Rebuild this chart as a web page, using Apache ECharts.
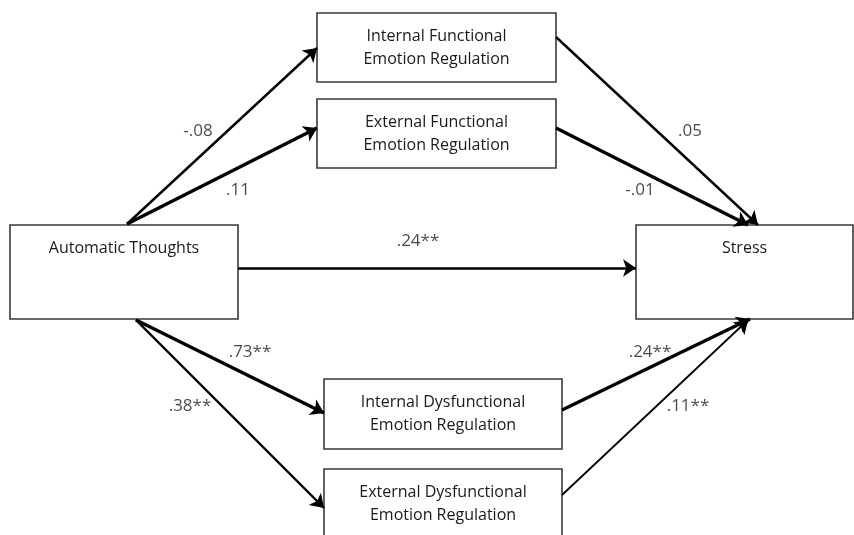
<!DOCTYPE html>
<html><head><meta charset="utf-8">
<script src="https://cdn.jsdelivr.net/npm/echarts@6/dist/echarts.min.js"></script>
<style>html,body{margin:0;padding:0;background:#fff}#c{width:854px;height:535px}</style>
</head><body><div id="c"></div>
<script>
// Variables (boxes) of the path model: label lines and extents [x0, y0, x1, y1] in diagram units
const nodeNames = ['Automatic Thoughts', 'Internal Functional\nEmotion Regulation', 'External Functional\nEmotion Regulation', 'Stress', 'Internal Dysfunctional\nEmotion Regulation', 'External Dysfunctional\nEmotion Regulation'];
const nodeBoxes = [[10, 225, 238, 319], [317, 13, 556, 82], [317, 99, 556, 168], [636, 225, 853, 319], [324, 379, 562, 449], [324, 469, 562, 540]];
// Paths: start / end points and the path coefficients
const pathFrom = [[127, 224], [127, 224], [238, 268], [136, 320], [136, 320], [556, 37], [556, 128], [562, 410], [562, 495]];
const pathTo = [[317, 48], [317, 128], [636, 268], [324, 413], [324, 508], [758, 225], [748, 225], [750, 319], [748, 320]];
const pathCoefficients = ['-.08', '.11', '.24**', '.73**', '.38**', '.05', '-.01', '.24**', '.11**'];
const coefficientAnchors = [[198, 131], [238, 190], [418, 241], [250, 352], [190, 406], [690, 131], [640, 190], [650, 352], [688, 406]];

const EDGE_WIDTH = [2.4, 3.4, 2.6, 3.4, 2.4, 2.4, 3.4, 3.4, 1.8];

const chart = echarts.init(document.getElementById('c'), null, {renderer: 'canvas'});
const FONT = '"Open Sans", "Noto Sans", sans-serif';

chart.setOption({
  animation: false,
  backgroundColor: '#fff',
  grid: {left: 0, right: 0, top: 0, bottom: 0},
  xAxis: {type: 'value', min: 0, max: 854, show: false},
  yAxis: {type: 'value', min: 0, max: 535, inverse: true, show: false},
  series: [
    {
      type: 'custom',
      coordinateSystem: 'cartesian2d',
      data: nodeBoxes.map((b, i) => [b[0], b[1], b[2], b[3], i]),
      renderItem: function (params, api) {
        const p0 = api.coord([api.value(0), api.value(1)]);
        const p1 = api.coord([api.value(2), api.value(3)]);
        const idx = api.value(4);
        const lines = nodeNames[idx].split('\n');
        const children = [{
          type: 'rect',
          shape: {x: p0[0], y: p0[1], width: p1[0] - p0[0], height: p1[1] - p0[1]},
          style: {fill: '#fff', stroke: '#3a3a3a', lineWidth: 1.6}
        }];
        const cx = (p0[0] + p1[0]) / 2;
        lines.forEach((t, k) => {
          children.push({
            type: 'text',
            style: {text: t, x: cx, y: p0[1] + 23 + k * 23, align: 'center', verticalAlign: 'middle',
              font: '16px ' + FONT, fill: '#1a1a1a'}
          });
        });
        return {type: 'group', children: children};
      },
      z: 1
    },
    {
      type: 'lines',
      coordinateSystem: 'cartesian2d',
      symbol: ['none', 'arrow'],
      symbolSize: 13,
      data: pathFrom.map((f, i) => ({coords: [f, pathTo[i]], lineStyle: {width: EDGE_WIDTH[i]}})),
      lineStyle: {color: '#000', opacity: 1, curveness: 0},
      z: 3
    },
    {
      type: 'scatter',
      symbolSize: 0,
      data: coefficientAnchors.map((a, i) => [a[0], a[1], pathCoefficients[i]]),
      label: {
        show: true, position: 'inside',
        formatter: p => p.value[2],
        fontFamily: FONT, fontSize: 17, color: '#1a1a1a'
      },
      z: 4
    }
  ]
});
</script></body></html>
